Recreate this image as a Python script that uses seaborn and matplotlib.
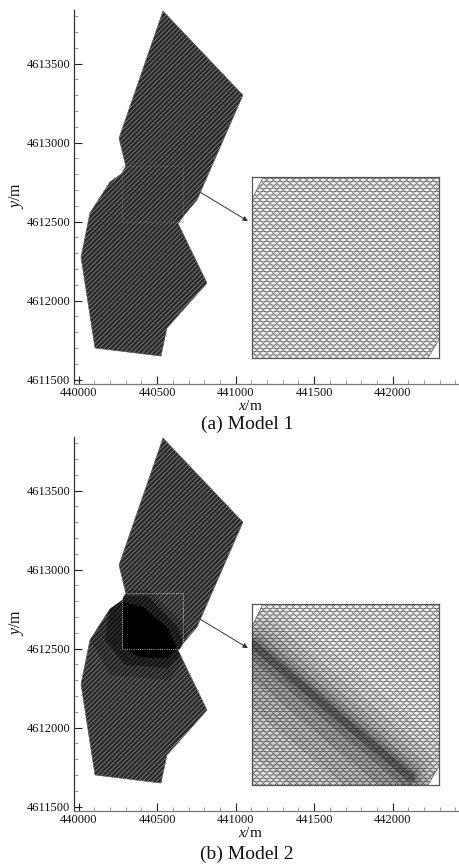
"""Triangular mesh outline of the two models, with a zoomed inset for each"""

import matplotlib
matplotlib.use('Agg')
import matplotlib.pyplot as plt
from matplotlib.patches import Polygon, Rectangle
import seaborn as sns
import pandas as pd
import numpy as np


# domain outline (metres)
outline_x = [440537, 441046, 440753, 440664, 440642, 440632, 440817, 440562,
             440524, 440104, 440015, 440072, 440199, 440276, 440300, 440257]
outline_y = [4613832, 4613300, 4612636, 4612532, 4612497, 4612490, 4612111, 4611826,
             4611649, 4611700, 4612275, 4612554, 4612750, 4612805, 4612851, 4613028]

# zoomed window
window_x = [440276, 440664]
window_y = [4612497, 4612851]

# refined area of model 2, outer to inner
core_x = [440282, 440410, 440562, 440626, 440562, 440390, 440282]
core_y = [4612794, 4612763, 4612636, 4612510, 4612440, 4612446, 4612503]
mid_x = [440212, 440441, 440632, 440677, 440569, 440295, 440167]
mid_y = [4612832, 4612832, 4612636, 4612490, 4612377, 4612396, 4612554]
halo_x = [440167, 440454, 440677, 440709, 440581, 440199, 440072]
halo_y = [4612870, 4612870, 4612649, 4612490, 4612300, 4612332, 4612554]

# refinement band in the inset of model 2: centre line, then reach above/below it
band_x = [440278, 440610]
band_y = [4612774, 4612511]
band_above = [90, 60, 40, 25, 14, 7]
band_below = [260, 170, 100, 55, 25, 10]
band_alpha = [0.05, 0.07, 0.09, 0.12, 0.16, 0.25]

x_ticks = [440000, 440500, 441000, 441500, 442000]
y_ticks = [4611500, 4612000, 4612500, 4613000, 4613500]
captions = ['(a) Model 1', '(b) Model 2']

W, H = 459, 865

sns.set_theme(style='ticks')
plt.rcParams['font.family'] = ['Liberation Serif']
plt.rcParams['mathtext.fontset'] = 'custom'
plt.rcParams['mathtext.rm'] = 'Liberation Serif'
plt.rcParams['mathtext.it'] = 'Liberation Serif:italic'
plt.rcParams['hatch.linewidth'] = 0.4

fig = plt.figure(figsize=(W / 100, H / 100), dpi=100)


def px_axes(left, top, right, bottom):
    return fig.add_axes([left / W, 1 - bottom / H, (right - left) / W, (bottom - top) / H])


def draw_mesh(ax, face, hatch_color, hatch):
    verts = np.column_stack([outline_x, outline_y])
    patch = Polygon(verts, closed=True, facecolor=face, edgecolor=hatch_color,
                    hatch=hatch, linewidth=0, zorder=1)
    ax.add_patch(patch)
    df = pd.DataFrame({'x': outline_x + outline_x[:1], 'y': outline_y + outline_y[:1]})
    sns.lineplot(data=df, x='x', y='y', sort=False, estimator=None, ax=ax,
                 color='#5a5a5a', linewidth=0.5, zorder=2)
    return patch


for i, top in enumerate([10, 437]):
    ax = px_axes(73.5, top, 458, top + 374)
    patch = draw_mesh(ax, '#2b2b2b', '#a8a8a8', '/' * 7)

    if i == 1:
        for xs, ys, a in [(halo_x, halo_y, 0.2), (mid_x, mid_y, 0.4), (core_x, core_y, 1.0)]:
            blob = Polygon(np.column_stack([xs, ys]), closed=True, facecolor='black',
                           edgecolor='none', alpha=a, zorder=3)
            ax.add_patch(blob)
            blob.set_clip_path(patch)

    box = Rectangle((window_x[0], window_y[0]), window_x[1] - window_x[0],
                    window_y[1] - window_y[0], fill=False, linestyle=':', linewidth=0.6,
                    edgecolor='#777777' if i == 0 else '#eeeeee', zorder=4)
    ax.add_patch(box)

    ax.annotate('', xy=(441078, 4612503), xytext=(440772, 4612687), zorder=5,
                arrowprops=dict(arrowstyle='-|>', color='#333333', lw=0.7,
                                mutation_scale=7, shrinkA=0, shrinkB=0))

    ax.set_xlim(439967, 442416)
    ax.set_ylim(4611472, 4613839)
    ax.set_xticks(x_ticks)
    ax.set_yticks(y_ticks)
    ax.set_xticklabels([str(t) for t in x_ticks])
    ax.set_yticklabels([str(t) for t in y_ticks])
    ax.set_xticks(np.arange(440100, 442401, 100), minor=True)
    ax.set_yticks(np.arange(4611600, 4613801, 100), minor=True)
    ax.tick_params(which='major', direction='in', length=6, width=0.8, color='#222222',
                   labelsize=9, pad=2.5, labelcolor='#111111')
    ax.tick_params(which='minor', direction='in', length=3, width=0.6, color='#888888')
    ax.set_xlabel('')
    ax.set_ylabel('')
    sns.despine(ax=ax)
    ax.spines['left'].set_color('#333333')
    ax.spines['bottom'].set_color('#777777')
    ax.spines['left'].set_linewidth(0.9)
    ax.spines['bottom'].set_linewidth(0.9)

    # axis names and caption sit at fixed places on the page
    fig.text(250 / W, 1 - (top + 396) / H, r'$\mathit{x}$/m', ha='center', va='center',
             fontsize=11, color='#111111')
    fig.text(17 / W, 1 - (top + 185) / H, r'$\mathit{y}$/m', ha='center', va='center',
             rotation=90, fontsize=11.5, color='#111111')
    fig.text(247 / W, 1 - ([424, 854][i]) / H, captions[i], ha='center', va='center',
             fontsize=14, color='#111111')

    # inset
    ins_top = [177, 604][i]
    ins = px_axes(251.5, ins_top, 438.5, ins_top + 181)
    patch = draw_mesh(ins, '#f0f0f0', '#6a6a6a', '/' * 5 + '\\' * 5 + '-' * 5)
    if i == 1:
        start = np.array([band_x[0], band_y[0]], float)
        end = np.array([band_x[1], band_y[1]], float)
        along = (end - start) / np.hypot(*(end - start))
        nrm = np.array([along[1], -along[0]])
        for above, below, a in zip(band_above, band_below, band_alpha):
            tip = (above + below) / 3
            verts = [start - along * tip, start + nrm * below, end + nrm * below,
                     end + along * tip, end - nrm * above, start - nrm * above]
            layer = Polygon(np.array(verts), closed=True, facecolor='black',
                            edgecolor='none', alpha=a, zorder=3)
            ins.add_patch(layer)
            layer.set_clip_path(patch)
    ins.set_xlim(*window_x)
    ins.set_ylim(*window_y)
    ins.set_xticks([])
    ins.set_yticks([])
    ins.set_xlabel('')
    ins.set_ylabel('')
    for s in ins.spines.values():
        s.set_color('#555555')
        s.set_linewidth(0.9)

fig.savefig('out.png', dpi=100)
